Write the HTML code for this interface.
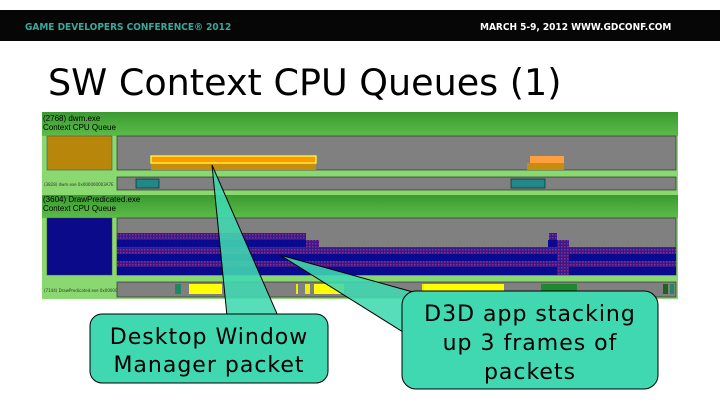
<!DOCTYPE html>
<html><head><meta charset="utf-8"><style>
body{margin:0;width:720px;height:405px;background:#fff;overflow:hidden}
</style></head><body>
<svg width="720" height="405" xmlns="http://www.w3.org/2000/svg" font-family="'DejaVu Sans','Liberation Sans',sans-serif">
<defs>
<pattern id="pp" width="3" height="3" patternUnits="userSpaceOnUse"><rect width="3" height="3" fill="#3a1a8a"/><rect width="1.5" height="1.5" fill="#8a2a8a"/></pattern>
<linearGradient id="g1" x1="0" y1="0" x2="0" y2="1"><stop offset="0" stop-color="#3a9a30"/><stop offset="1" stop-color="#5cbc48"/></linearGradient>
</defs>
<rect x="0" y="10" width="720" height="31" fill="#060606"/>
<text x="25" y="30" font-size="10" font-weight="bold" fill="#3aa89a" font-family="'DejaVu Sans Condensed','DejaVu Sans',sans-serif">GAME DEVELOPERS CONFERENCE® 2012</text>
<text x="480" y="30" font-size="10" font-weight="bold" fill="#fff" font-family="'DejaVu Sans Condensed','DejaVu Sans',sans-serif">MARCH 5-9, 2012   WWW.GDCONF.COM</text>
<text x="48" y="95" font-size="36.5" fill="#000">SW Context CPU Queues (1)</text>
<!-- screenshot -->
<rect x="42" y="112" width="636" height="187" fill="#8ad870"/>
<rect x="42" y="112" width="636" height="24" fill="url(#g1)"/>
<text x="43" y="121" font-size="8" fill="#000" font-family="'Liberation Sans',sans-serif">(2768) dwm.exe</text>
<text x="43" y="130" font-size="8" fill="#000" font-family="'Liberation Sans',sans-serif">Context CPU Queue</text>
<rect x="47" y="136" width="65" height="34" fill="#b8860b" stroke="#444" stroke-width=".5"/>
<rect x="117" y="136" width="559" height="34" fill="#808080" stroke="#333" stroke-width=".7"/>
<rect x="151" y="163" width="165" height="7" fill="#c88c10"/>
<rect x="151" y="156" width="165" height="7" fill="#ff9900" stroke="#ffff40" stroke-width="1.3"/>
<rect x="527" y="163" width="37" height="7" fill="#c88c10"/>
<rect x="530" y="156" width="34" height="7" fill="#ffa040"/>
<text x="44" y="186" font-size="4" fill="#333">(3828) dwm.exe 0x000000003A7E</text>
<rect x="117" y="177" width="559" height="13" fill="#808080" stroke="#333" stroke-width=".7"/>
<rect x="136" y="179" width="23" height="9" fill="#208888" stroke="#033" stroke-width=".7"/>
<rect x="511" y="179" width="34" height="9" fill="#208888" stroke="#033" stroke-width=".7"/>
<rect x="42" y="195" width="636" height="23" fill="url(#g1)"/>
<text x="43" y="202" font-size="8" fill="#000" font-family="'Liberation Sans',sans-serif">(3604) DrawPredicated.exe</text>
<text x="43" y="211" font-size="8" fill="#000" font-family="'Liberation Sans',sans-serif">Context CPU Queue</text>
<rect x="47" y="218" width="65" height="57" fill="#0a0a8a" stroke="#444" stroke-width=".5"/>
<rect x="117" y="218" width="559" height="57" fill="#808080" stroke="#333" stroke-width=".7"/>
<rect x="117" y="233" width="189" height="7" fill="url(#pp)"/>
<rect x="117" y="240" width="202" height="7" fill="#0a0a90"/>
<rect x="306" y="240" width="13" height="7" fill="url(#pp)"/>
<rect x="117" y="247" width="559" height="7" fill="url(#pp)"/>
<rect x="117" y="254" width="559" height="7" fill="#0a0a90"/>
<rect x="117" y="261" width="559" height="6" fill="url(#pp)"/>
<rect x="117" y="267" width="559" height="8" fill="#0a0a90"/>
<rect x="549" y="233" width="8" height="7" fill="url(#pp)"/>
<rect x="548" y="240" width="10" height="7" fill="#0a0a90"/>
<rect x="557" y="240" width="12" height="7" fill="url(#pp)"/>
<rect x="557" y="254" width="12" height="7" fill="url(#pp)"/>
<rect x="557" y="267" width="12" height="8" fill="url(#pp)"/>
<text x="44" y="292" font-size="4" fill="#333">(7144) DrawPredicated.exe 0x000000000CB8</text>
<rect x="117" y="282" width="559" height="15" fill="#808080" stroke="#333" stroke-width=".7"/>
<rect x="175" y="284" width="6" height="10" fill="#208860"/>
<rect x="189" y="284" width="33" height="10" fill="#ffff00"/>
<rect x="296" y="284" width="2" height="10" fill="#ee0"/>
<rect x="305" y="284" width="5" height="10" fill="#ee0"/>
<rect x="314" y="284" width="30" height="10" fill="#ffff00"/>
<rect x="422" y="284" width="4" height="10" fill="#ee0"/>
<rect x="432" y="284" width="5" height="10" fill="#ee0"/>
<rect x="424" y="284" width="80" height="10" fill="#ffff00"/>
<rect x="541" y="284" width="36" height="10" fill="#208830"/>
<rect x="663" y="284" width="5" height="10" fill="#206020"/>
<rect x="670" y="284" width="4" height="10" fill="#208860"/>
<!-- callouts -->
<polygon points="212,165 227,316 278,316" fill="#40d8b0" fill-opacity=".88" stroke="#000" stroke-width="1"/>
<polygon points="280,255 420,294 403,332" fill="#40d8b0" fill-opacity=".88" stroke="#000" stroke-width="1"/>
<rect x="90" y="314" width="238" height="69" rx="12" fill="#40d8b0" stroke="#000" stroke-width="1"/>
<polygon points="228,315.5 277,315.5 282,330 230,330" fill="#40d8b0"/>
<rect x="402" y="291" width="256" height="98" rx="14" fill="#40d8b0" stroke="#000" stroke-width="1"/>
<polygon points="403.5,300 419,292.5 430,310 403.5,331" fill="#40d8b0"/>
<g font-size="22" text-anchor="middle" fill="#000" letter-spacing="1">
<text x="209" y="344">Desktop Window</text>
<text x="209" y="372">Manager packet</text>
<text x="530" y="321">D3D app stacking</text>
<text x="530" y="350">up 3 frames of</text>
<text x="530" y="379">packets</text>
</g>
</svg>
</body></html>
